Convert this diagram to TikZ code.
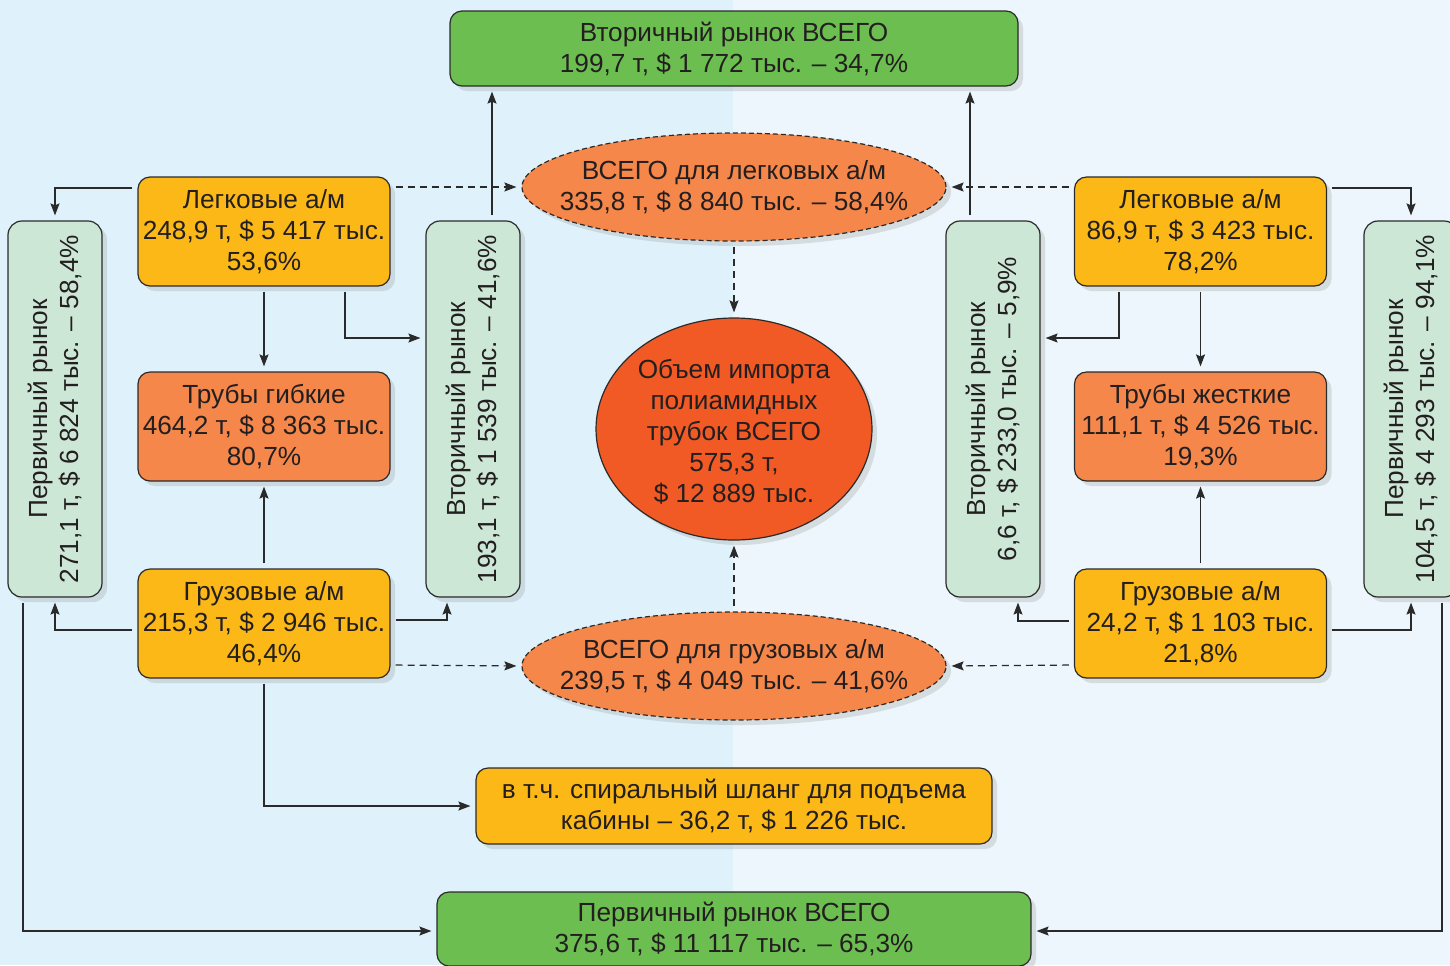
\documentclass[tikz,border=0pt]{standalone}
\usepackage{fontspec}
\setmainfont{Liberation Sans}
\usetikzlibrary{shapes.geometric,shadows,arrows.meta}
\definecolor{bgL}{HTML}{DFF1FA}
\definecolor{bgR}{HTML}{ECF6FC}
\definecolor{yel}{HTML}{FBB816}
\definecolor{org}{HTML}{F5874A}
\definecolor{redc}{HTML}{F15A24}
\definecolor{grn}{HTML}{6CBE50}
\definecolor{lgrn}{HTML}{CDE7D6}
\definecolor{linec}{HTML}{2B2A2A}
\definecolor{txt}{HTML}{231F20}
\newcommand{\fs}{\fontsize{13.1}{15.5}\selectfont}
\tikzset{
  shd/.style={drop shadow={opacity=0.22, shadow xshift=2.5pt, shadow yshift=-2.5pt}},
  box/.style={draw=linec, line width=0.6pt, rounded corners=6pt, inner sep=0pt, align=center, font=\fs, text=txt, shd},
  ybox/.style={box, fill=yel, minimum width=126pt, minimum height=54.5pt},
  obox/.style={box, fill=org, minimum width=126pt, minimum height=54.5pt},
  vbox/.style={box, fill=lgrn, rounded corners=7pt, minimum width=47pt, minimum height=188pt},
  gbox/.style={box, fill=grn},
  ell/.style={ellipse, draw=linec, line width=0.6pt, dash pattern=on 2.5pt off 1.5pt, fill=org, inner sep=0pt, minimum width=212pt, minimum height=54pt, shd},
  etext/.style={align=center, font=\fs, text=txt, inner sep=0pt},
  vtext/.style={rotate=90, align=center, font=\fs, text=txt, inner sep=0pt},
  arr/.style={draw=linec, line width=0.6pt, -{Stealth[length=6pt,width=4.5pt,inset=1pt]}, shorten <=2.5pt, shorten >=2.5pt},
  darr/.style={arr, dash pattern=on 3.5pt off 2.5pt},
}
\begin{document}
\begin{tikzpicture}[x=0.5pt,y=-0.5pt]
\useasboundingbox (0,0) rectangle (1450,965);
\fill[bgL] (0,0) rectangle (733,965);
\fill[bgR] (733,0) rectangle (1450,965);

% boxes
\node[gbox, minimum width=284pt, minimum height=37.5pt] (topg) at (734,48.5) {Вторичный рынок ВСЕГО\\199,7 т, \$ 1 772 тыс. – 34,7\%};
\node[gbox, minimum width=297pt, minimum height=37pt] (botg) at (734,929) {Первичный рынок ВСЕГО\\375,6 т, \$ 11 117 тыс. – 65,3\%};

\node[ybox] (lcar) at (264,231.5) {Легковые а/м\\248,9 т, \$ 5 417 тыс.\\53,6\%};
\node[obox] (ltube) at (264,426.5) {Трубы гибкие\\464,2 т, \$ 8 363 тыс.\\80,7\%};
\node[ybox] (ltruck) at (264,623.5) {Грузовые а/м\\215,3 т, \$ 2 946 тыс.\\46,4\%};

\node[ybox] (rcar) at (1200.5,231.5) {Легковые а/м\\86,9 т, \$ 3 423 тыс.\\78,2\%};
\node[obox] (rtube) at (1200.5,426.5) {Трубы жесткие\\111,1 т, \$ 4 526 тыс.\\19,3\%};
\node[ybox] (rtruck) at (1200.5,623.5) {Грузовые а/м\\24,2 т, \$ 1 103 тыс.\\21,8\%};

\node[vbox] (lprim) at (55,409) {};
\node[vtext] (lprimt) at (lprim.center) {Первичный рынок\\271,1 т, \$ 6 824 тыс. – 58,4\%};
\node[vbox] (lsec) at (473,409) {};
\node[vtext] (lsect) at (lsec.center) {Вторичный рынок\\193,1 т, \$ 1 539 тыс. – 41,6\%};
\node[vbox] (rsec) at (993,409) {};
\node[vtext] (rsect) at (rsec.center) {Вторичный рынок\\6,6 т, \$ 233,0 тыс. – 5,9\%};
\node[vbox] (rprim) at (1411,409) {};
\node[vtext] (rprimt) at (rprim.center) {Первичный рынок\\104,5 т, \$ 4 293 тыс. – 94,1\%};

\node[ell] (ell1) at (734,187) {};
\node[etext] (ell1t) at (ell1.center) {ВСЕГО для легковых а/м\\335,8 т, \$ 8 840 тыс. – 58,4\%};
\node[ell] (ell2) at (734,666) {};
\node[etext] (ell2t) at (ell2.center) {ВСЕГО для грузовых а/м\\239,5 т, \$ 4 049 тыс. – 41,6\%};
\node[ellipse, draw=linec, line width=0.6pt, fill=redc, inner sep=0pt, minimum width=138pt, minimum height=111pt, shd] (ctr) at (734,429) {};
\node[etext] (ctrt) at ([yshift=-1.5pt]ctr.center) {Объем импорта\\полиамидных\\трубок ВСЕГО\\575,3 т,\\\$ 12 889 тыс.};

\node[ybox, minimum width=258pt, minimum height=38pt] (spiral) at (734,806) {в т.ч. спиральный шланг для подъема\\кабины – 36,2 т, \$ 1 226 тыс.};

% connectors left
\draw[arr] (lcar.west |- 0,188) -| (lprim.north);
\draw[darr] (lcar.east |- 0,187) -- (ell1.west);
\draw[arr] (lcar.south) -- (ltube.north);
\draw[arr] (lcar.south -| 345,0) |- (lsec.west |- 0,338);
\draw[arr] (lsec.north -| 492,0) -- (topg.south -| 492,0);
\draw[arr] (ltruck.north) -- (ltube.south);
\draw[arr] (ltruck.west |- 0,630) -| (lprim.south);
\draw[arr] (ltruck.east |- 0,620) -| (lsec.south -| 447,0);
\draw[darr] (ltruck.east |- 0,665) -- (ell2.west);
\draw[arr] (ltruck.south) |- (spiral.west);
\draw[arr] (lprim.south -| 23,0) |- (botg.west |- 0,931);
% center
\draw[darr] (ell1.south) -- (ctr.north);
\draw[darr] (ell2.north) -- (ctr.south);
% connectors right
\draw[darr] (rcar.west |- 0,187) -- (ell1.east);
\draw[arr] (rcar.east |- 0,188) -| (rprim.north);
\draw[arr] (rcar.south) -- (rtube.north);
\draw[arr] (rcar.south -| 1119,0) |- (rsec.east |- 0,338);
\draw[arr] (rsec.north -| 970,0) -- (topg.south -| 970,0);
\draw[arr] (rtruck.north) -- (rtube.south);
\draw[arr] (rtruck.west |- 0,621) -| (rsec.south -| 1018,0);
\draw[arr] (rtruck.east |- 0,630) -| (rprim.south);
\draw[darr] (rtruck.west |- 0,665) -- (ell2.east);
\draw[arr] (rprim.south -| 1442,0) |- (botg.east |- 0,931);
\end{tikzpicture}
\end{document}
